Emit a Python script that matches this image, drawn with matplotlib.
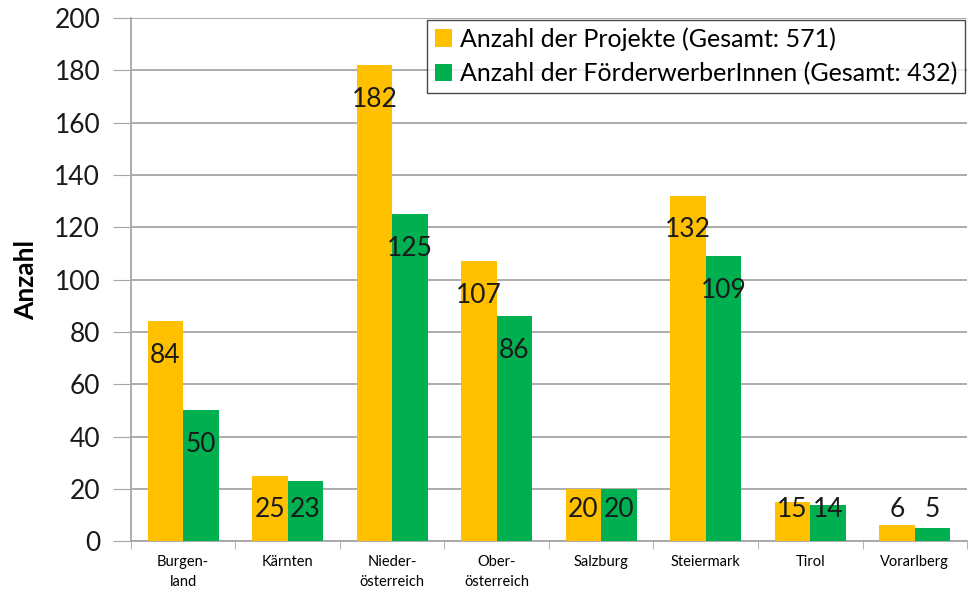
import matplotlib
matplotlib.use("Agg")
import matplotlib.pyplot as plt
import numpy as np

plt.rcParams['font.family'] = ['Lato', 'DejaVu Sans']

regions = ["Burgen-\nland", "Kärnten", "Nieder-\nösterreich", "Ober-\nösterreich",
           "Salzburg", "Steiermark", "Tirol", "Vorarlberg"]
projekte = [84, 25, 182, 107, 20, 132, 15, 6]
foerderwerber = [50, 23, 125, 86, 20, 109, 14, 5]
labels = ["Anzahl der Projekte (Gesamt: 571)",
          "Anzahl der FörderwerberInnen (Gesamt: 432)"]

yellow = "#FFC000"
green = "#00B050"
grid_col = "#A6A6A6"

fig = plt.figure(figsize=(9.69, 5.98), dpi=100)
ax = fig.add_axes([0.135, 0.095, 0.863, 0.875])

x = np.arange(len(regions))
w = 0.34
b1 = ax.bar(x - w / 2, projekte, w, color=yellow, label=labels[0], zorder=3)
b2 = ax.bar(x + w / 2, foerderwerber, w, color=green, label=labels[1], zorder=3)

# data labels just inside the bar top (Excel style)
for bars, vals in ((b1, projekte), (b2, foerderwerber)):
    for rect, v in zip(bars, vals):
        ax.text(rect.get_x() + rect.get_width() / 2, max(v - 13, 12), str(v),
                ha="center", va="center", fontsize=19, color="#1a1a1a", zorder=4)

ax.set_xlim(-0.5, len(regions) - 0.5)
ax.set_ylim(0, 200)
ax.set_yticks(range(0, 201, 20))
ax.tick_params(axis="y", labelsize=19, length=13, color=grid_col, pad=9, labelcolor="#1a1a1a")
ax.yaxis.grid(True, color=grid_col, linewidth=1.3, zorder=0)

ax.set_xticks(x)
ax.set_xticklabels(regions, fontsize=10.5, linespacing=1.5)
ax.tick_params(axis="x", length=0, pad=10)
ax.set_xticks(np.arange(-0.5, len(regions)), minor=True)
ax.tick_params(axis="x", which="minor", length=6, color=grid_col)

for s in ["top", "right"]:
    ax.spines[s].set_visible(False)
for s in ["left", "bottom"]:
    ax.spines[s].set_color(grid_col)
    ax.spines[s].set_linewidth(1.3)

ax.set_ylabel("Anzahl", fontsize=19, fontweight="bold", labelpad=12)

leg = ax.legend(loc="upper right", bbox_to_anchor=(0.997, 0.997), fontsize=18,
                frameon=True, fancybox=False, edgecolor="#1a1a1a",
                handlelength=0.7, handleheight=0.7, handletextpad=0.3,
                borderpad=0.3, labelspacing=0.45, borderaxespad=0)
leg.get_frame().set_linewidth(1.0)
leg.set_zorder(5)

fig.savefig("out.png", dpi=100)
